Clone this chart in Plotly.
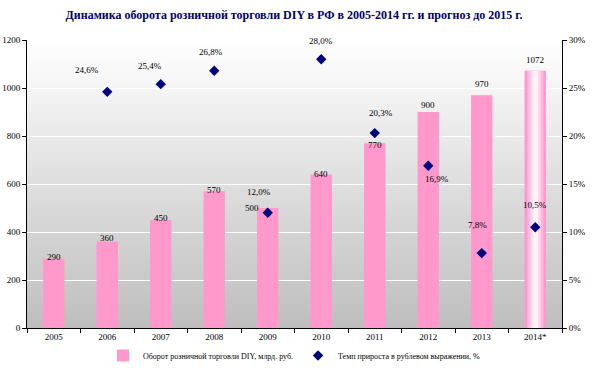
import base64
import plotly.graph_objects as go

years = ["2005", "2006", "2007", "2008", "2009", "2010", "2011", "2012", "2013", "2014*"]
turnover = [290, 360, 450, 570, 500, 640, 770, 900, 970, 1072]
growth_years = ["2006", "2007", "2008", "2009", "2010", "2011", "2012", "2013", "2014*"]
growth = [24.6, 25.4, 26.8, 12.0, 28.0, 20.3, 16.9, 7.8, 10.5]
growth_labels = ["24,6%", "25,4%", "26,8%", "12,0%", "28,0%", "20,3%", "16,9%", "7,8%", "10,5%"]
left_ticks = [0, 200, 400, 600, 800, 1000, 1200]
right_ticks = [0, 5, 10, 15, 20, 25, 30]

title = "Динамика оборота розничной торговли DIY в РФ в 2005-2014 гг. и прогноз до 2015 г."
bar_name = "Оборот розничной торговли DIY, млрд. руб."
dot_name = "Темп прироста в рублевом выражении, %"

SERIF = "Liberation Serif, Times New Roman, serif"
PINK = "#FF99CC"
NAVY = "#000080"

xpos = list(range(len(years)))
gpos = [years.index(y) for y in growth_years]

svg = ('<svg xmlns="http://www.w3.org/2000/svg" width="10" height="100" preserveAspectRatio="none">'
       '<defs><linearGradient id="g" x1="0" y1="0" x2="0" y2="1">'
       '<stop offset="0" stop-color="#ffffff"/><stop offset="1" stop-color="#bebebe"/>'
       '</linearGradient></defs><rect width="10" height="100" fill="url(#g)"/></svg>')
bg_uri = "data:image/svg+xml;base64," + base64.b64encode(svg.encode()).decode()

fig = go.Figure()

fig.add_trace(go.Bar(
    x=xpos, y=turnover, name=bar_name,
    marker=dict(color=PINK, line=dict(width=0)),
    width=0.4,
))

# highlight on forecast bar (white centre gradient)
for w, c in [(0.3, "rgba(255,190,225,0.8)"), (0.2, "rgba(255,220,238,0.8)"), (0.1, "rgba(255,245,250,0.9)")]:
    fig.add_trace(go.Bar(x=[xpos[-1]], y=[turnover[-1]], width=w,
                         marker=dict(color=c, line=dict(width=0)),
                         showlegend=False, hoverinfo="skip"))

fig.add_trace(go.Scatter(
    x=gpos, y=growth, name=dot_name, mode="markers", yaxis="y2",
    marker=dict(symbol="diamond", size=8, color=NAVY),
))

# bar value labels
bar_shifts = [(0, 1), (0, 4), (0, 2), (0, 1), (-16, 0), (0, 0), (0, -2), (0, 7), (0, 11), (0, 11)]
for x, v, (dx, dy) in zip(xpos, turnover, bar_shifts):
    fig.add_annotation(x=x, y=v, xref="x", yref="y", text=str(v), showarrow=False,
                       xshift=dx, yshift=dy, yanchor="middle",
                       font=dict(family=SERIF, size=9, color="black"))

# percent labels
offsets = [(-20, 22), (-11, 18), (-3, 19), (-9, 21), (0, 18), (6, 20), (9, -13), (-4, 28), (0, 22)]
for x, y, lab, (dx, dy) in zip(gpos, growth, growth_labels, offsets):
    fig.add_annotation(x=x, y=y, xref="x", yref="y2", text=lab, showarrow=False,
                       xshift=dx, yshift=dy, yanchor="middle",
                       font=dict(family=SERIF, size=9, color="black"))

fig.update_layout(
    width=600, height=384,
    margin=dict(l=27, r=38, t=40, b=56),
    paper_bgcolor="white",
    plot_bgcolor="rgba(0,0,0,0)",
    barmode="overlay",
    title=dict(text="<b>" + title + "</b>", x=0.49, xanchor="center", y=0.962, yanchor="middle",
               font=dict(family=SERIF, size=12, color="#000066")),
    images=[dict(source=bg_uri, xref="paper", yref="paper", x=0, y=1, sizex=1, sizey=1,
                 xanchor="left", yanchor="top", sizing="stretch", layer="below")],
    xaxis=dict(range=[-0.5, len(years) - 0.5], tickvals=xpos, ticktext=years,
               showline=True, linecolor="black", linewidth=1, ticks="", automargin=False,
               minor=dict(tick0=0.5, dtick=1, ticks="outside", ticklen=4, tickcolor="black", showgrid=False),
               tickfont=dict(family=SERIF, size=9, color="black"), showgrid=False, zeroline=False),
    yaxis=dict(range=[0, 1200], tickvals=left_ticks, showline=True, linecolor="black", linewidth=1,
               ticks="outside", ticklen=4, tickcolor="black", automargin=False,
               tickfont=dict(family=SERIF, size=9, color="black"),
               showgrid=True, gridcolor="white", gridwidth=1, zeroline=False),
    yaxis2=dict(range=[0, 30], tickvals=right_ticks, ticktext=[f"{v}%" for v in right_ticks],
                overlaying="y", side="right", automargin=False,
                showline=True, linecolor="black", linewidth=1, ticks="outside", ticklen=4,
                tickcolor="black", tickfont=dict(family=SERIF, size=9, color="black"),
                showgrid=False, zeroline=False),
    legend=dict(orientation="h", x=0.5, xanchor="center", y=-0.045, yanchor="top",
                font=dict(family=SERIF, size=8, color="black"),
                bgcolor="rgba(0,0,0,0)"),
    showlegend=True,
)

fig.write_html("out.html", config={"displayModeBar": False},
               post_script="document.body.style.margin='0';")
